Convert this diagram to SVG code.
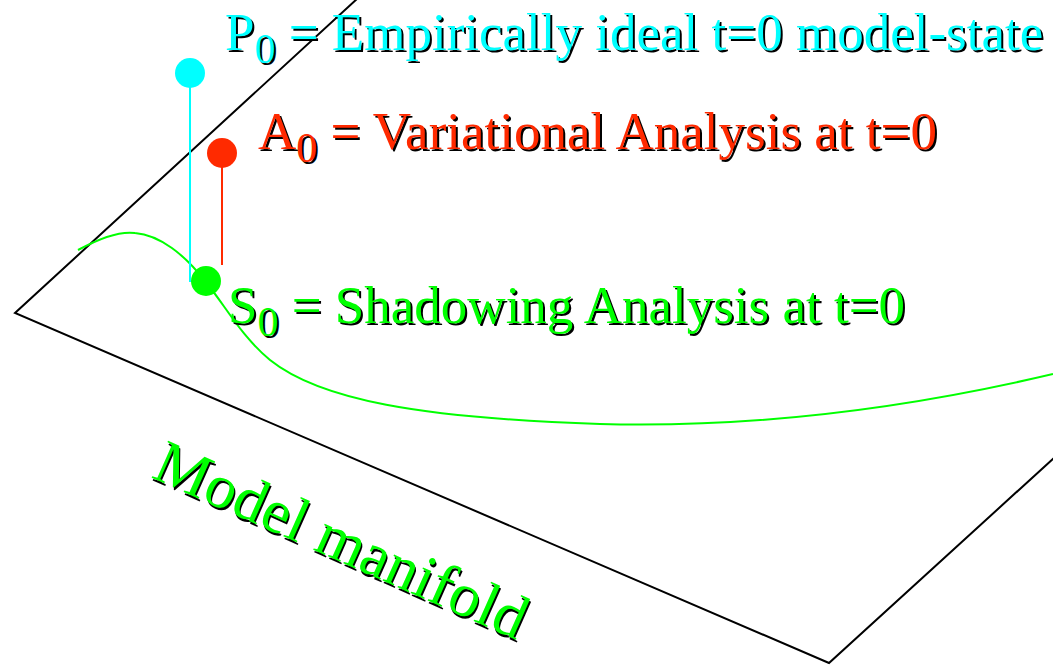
<svg xmlns="http://www.w3.org/2000/svg" xmlns:xlink="http://www.w3.org/1999/xlink" width="1053" height="665" viewBox="0 0 1053 665">
<style>
.lbl{font-family:"Liberation Serif","Times New Roman",serif;font-size:53px}
.sub{font-size:42px}
.edge{stroke:#000;stroke-width:2;fill:none}
.curve{stroke:#00ff00;stroke-width:2;fill:none}
.sh{fill:#000}
</style>
<defs>
<text id="tP" class="lbl" x="225" y="50">P<tspan class="sub" dy="13">0</tspan><tspan dy="-13"> = Empirically ideal t=0 model-state</tspan></text>
<text id="tA" class="lbl" x="258" y="149">A<tspan class="sub" dy="13">0</tspan><tspan dy="-13"> = Variational Analysis at t=0</tspan></text>
<text id="tS" class="lbl" x="228" y="323">S<tspan class="sub" dy="13">0</tspan><tspan dy="-13"> = Shadowing Analysis at t=0</tspan></text>
<text id="tM" class="lbl" style="font-size:62px" x="0" y="0">Model manifold</text>
</defs>
<rect width="1053" height="665" fill="#fff"/>
<g id="manifold">
<polyline class="edge" points="358,-2 15,313 829,663 1055,457"/>
<path class="curve" d="M78,250 C100,238 120,231 135,233 C160,235 185,255 205,281 C225,305 240,335 270,360 C320,400 420,418 600,424 C750,428 900,410 1053,374"/>
<g transform="translate(150,477) rotate(24)">
<use xlink:href="#tM" class="sh" x="2" y="2"/>
<use xlink:href="#tM" fill="#00ff00"/>
</g>
</g>
<g id="connectors">
<line x1="190" y1="73" x2="190" y2="282" stroke="#00ffff" stroke-width="2"/>
<line x1="222" y1="153" x2="222" y2="265" stroke="#ff2a00" stroke-width="2"/>
</g>
<g id="P0">
<circle cx="190" cy="73" r="15" fill="#00ffff"/>
<use xlink:href="#tP" class="sh" x="2" y="2"/>
<use xlink:href="#tP" fill="#00ffff"/>
</g>
<g id="A0">
<circle cx="222" cy="153" r="15" fill="#ff2a00"/>
<use xlink:href="#tA" class="sh" x="2" y="2"/>
<use xlink:href="#tA" fill="#ff2a00"/>
</g>
<g id="S0">
<circle cx="206" cy="281" r="15" fill="#00ff00"/>
<use xlink:href="#tS" class="sh" x="2" y="2"/>
<use xlink:href="#tS" fill="#00ff00"/>
</g>
</svg>
